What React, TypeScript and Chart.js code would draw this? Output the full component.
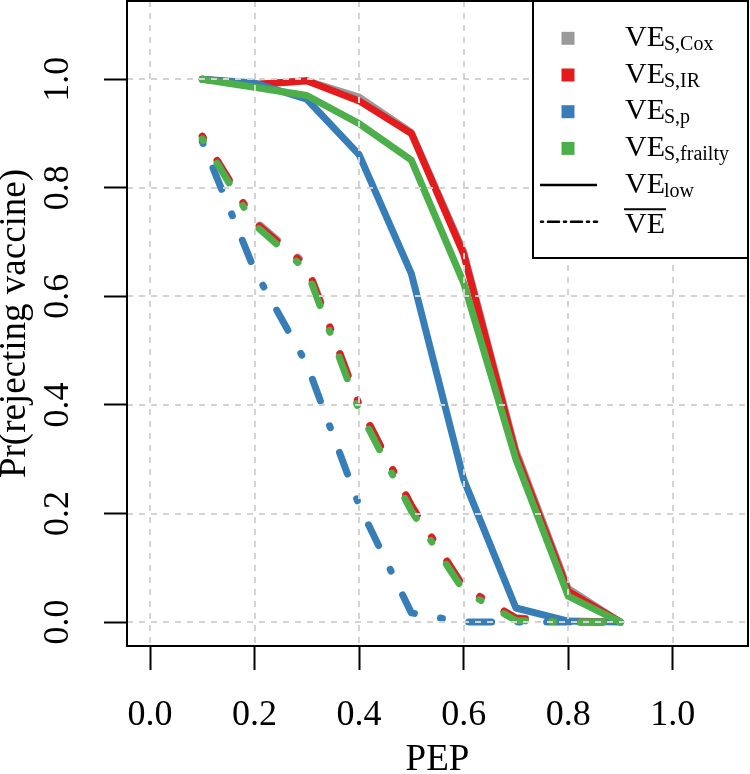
import React, { useEffect, useRef } from 'react';
import { Chart, registerables } from 'chart.js';

Chart.register(...registerables);

// ---- data ----
const pep = [0.1, 0.2, 0.3, 0.4, 0.5, 0.6, 0.7, 0.8, 0.9];

// VE_low (solid)
const coxLow = [1.0, 0.99, 0.997, 0.967, 0.902, 0.683, 0.316, 0.062, 0.0];
const irLow = [1.0, 0.99, 0.997, 0.96, 0.9, 0.678, 0.31, 0.057, 0.0];
const pLow = [1.0, 0.993, 0.963, 0.861, 0.642, 0.263, 0.026, 0.002, 0.0];
const frailtyLow = [1.0, 0.985, 0.97, 0.918, 0.851, 0.625, 0.3, 0.048, 0.0];

// VE bar (dot-dash)
const coxBar = [0.895, 0.74, 0.658, 0.402, 0.214, 0.066, 0.008, 0.0, 0.0];
const irBar = [0.895, 0.737, 0.655, 0.4, 0.215, 0.064, 0.007, 0.0, 0.0];
const pBar = [0.885, 0.648, 0.475, 0.215, 0.017, 0.0, 0.0, 0.0, 0.0];
const frailtyBar = [0.89, 0.732, 0.648, 0.39, 0.205, 0.058, 0.003, 0.0, 0.0];

const xTicks = [0, 0.2, 0.4, 0.6, 0.8, 1.0];
const yTicks = [0, 0.2, 0.4, 0.6, 0.8, 1.0];

const methodSubs = ['S,Cox', 'S,IR', 'S,p', 'S,frailty'];
const methodColors = ['#999999', '#E41A1C', '#377EB8', '#4DAF4A'];
const lowSeries = [coxLow, irLow, pLow, frailtyLow];
const barSeries = [coxBar, irBar, pBar, frailtyBar];

const xTitle = 'PEP';
const yTitle = 'Pr(rejecting vaccine)';

const FONT = '"Liberation Serif", "Times New Roman", serif';
const DOTDASH = [2, 26.5, 23, 26.5];
const LINE_W = 7;

const overlayPlugin = {
  id: 'overlay',
  afterDatasetsDraw(chart: any) {
    const { ctx, chartArea: a, scales } = chart;
    const x = scales.x;
    const y = scales.y;
    ctx.save();
    // dashed grid drawn over data (like R's grid())
    ctx.strokeStyle = '#D3D3D3';
    ctx.lineWidth = 2;
    ctx.setLineDash([6, 6]);
    xTicks.forEach((v) => {
      const px = Math.round(x.getPixelForValue(v));
      ctx.beginPath();
      ctx.moveTo(px, a.top);
      ctx.lineTo(px, a.bottom);
      ctx.stroke();
    });
    yTicks.forEach((v) => {
      const py = Math.round(y.getPixelForValue(v));
      ctx.beginPath();
      ctx.moveTo(a.left, py);
      ctx.lineTo(a.right, py);
      ctx.stroke();
    });
    ctx.setLineDash([]);

    // frame
    ctx.strokeStyle = '#000';
    ctx.lineWidth = 2;
    ctx.strokeRect(a.left, a.top, a.right - a.left, a.bottom - a.top);

    // legend
    const lw = 215;
    const lh = 257;
    const lx = a.right - lw;
    const ly = a.top;
    ctx.fillStyle = '#fff';
    ctx.fillRect(lx, ly, lw, lh);
    ctx.strokeRect(lx, ly, lw, lh);

    const rowH = 36.7;
    const row0 = ly + 37.3;
    const textX = lx + 92;
    const symX = lx + 35;
    const mainFont = `30px ${FONT}`;
    const subFont = `20px ${FONT}`;
    ctx.textBaseline = 'alphabetic';
    ctx.textAlign = 'left';

    const drawVE = (cy: number, sub: string, baseOff: number, subOff: number) => {
      ctx.fillStyle = '#000';
      ctx.font = mainFont;
      ctx.fillText('VE', textX, cy + baseOff);
      const w = ctx.measureText('VE').width;
      if (sub) {
        ctx.font = subFont;
        ctx.fillText(sub, textX + w - 1, cy + subOff);
      }
      return w;
    };

    methodSubs.forEach((s, i) => {
      const cy = row0 + i * rowH;
      ctx.fillStyle = methodColors[i];
      ctx.fillRect(symX - 6.5, cy - 6.5, 13, 13);
      drawVE(cy, s, 7.5, 11.5);
    });

    // solid line sample: VE_low
    let cy = row0 + 4 * rowH;
    ctx.strokeStyle = '#000';
    ctx.lineWidth = 2.5;
    ctx.beginPath();
    ctx.moveTo(lx + 7, cy);
    ctx.lineTo(lx + 64, cy);
    ctx.stroke();
    drawVE(cy, 'low', 8, 12);

    // dot-dash sample: VE bar
    cy = row0 + 5 * rowH;
    ctx.setLineDash([2, 5, 11, 5]);
    ctx.lineCap = 'round';
    ctx.beginPath();
    ctx.moveTo(lx + 8, cy);
    ctx.lineTo(lx + 64, cy);
    ctx.stroke();
    ctx.setLineDash([]);
    ctx.lineCap = 'butt';
    const w = drawVE(cy, '', 11.5, 0);
    ctx.lineWidth = 2;
    ctx.beginPath();
    ctx.moveTo(textX - 1, cy - 12.5);
    ctx.lineTo(textX + w + 1, cy - 12.5);
    ctx.stroke();

    ctx.restore();
  },
};

export default function App() {
  const ref = useRef<HTMLCanvasElement | null>(null);

  useEffect(() => {
    if (!ref.current) return;
    const datasets: any[] = [];
    let drawIdx = 0;
    lowSeries.forEach((arr, i) => {
      datasets.push({
        label: `VE_${methodSubs[i]} low`,
        data: pep.map((xv, j) => ({ x: xv, y: arr[j] })),
        borderColor: methodColors[i],
        backgroundColor: methodColors[i],
        borderWidth: LINE_W,
        borderCapStyle: 'round',
        borderJoinStyle: 'round',
        pointRadius: 0,
        fill: false,
        tension: 0,
        order: 100 - drawIdx++,
      });
    });
    barSeries.forEach((arr, i) => {
      datasets.push({
        label: `VE_${methodSubs[i]} bar`,
        data: pep.map((xv, j) => ({ x: xv, y: arr[j] })),
        borderColor: methodColors[i],
        backgroundColor: methodColors[i],
        borderWidth: LINE_W,
        borderCapStyle: 'round',
        borderJoinStyle: 'round',
        borderDash: DOTDASH,
        pointRadius: 0,
        fill: false,
        tension: 0,
        order: 100 - drawIdx++,
      });
    });

    const chart = new Chart(ref.current, {
      type: 'line',
      data: { datasets },
      options: {
        animation: false,
        responsive: false,
        maintainAspectRatio: false,
        layout: { autoPadding: false, padding: { left: 0, right: 2, top: 1, bottom: 0 } },
        plugins: {
          legend: { display: false },
          tooltip: { enabled: false },
        },
        scales: {
          x: {
            type: 'linear',
            min: -0.044,
            max: 1.144,
            afterBuildTicks: (s: any) => {
              s.ticks = xTicks.map((v) => ({ value: v }));
            },
            afterFit: (s: any) => {
              s.height = 128;
              s.paddingLeft = 0;
              s.paddingRight = 0;
            },
            border: { display: false },
            grid: {
              drawOnChartArea: false,
              drawTicks: true,
              tickLength: 24,
              tickColor: '#000',
              tickWidth: 2,
            },
            ticks: {
              autoSkip: false,
              maxRotation: 0,
              minRotation: 0,
              padding: 24,
              color: '#000',
              font: { family: FONT, size: 36 },
              callback: (v: any) => Number(v).toFixed(1),
            },
            title: {
              display: true,
              text: xTitle,
              color: '#000',
              font: { family: FONT, size: 37, lineHeight: 0.8 },
              padding: { top: 0, bottom: -1 },
            },
          },
          y: {
            type: 'linear',
            min: -0.044,
            max: 1.144,
            afterBuildTicks: (s: any) => {
              s.ticks = yTicks.map((v) => ({ value: v }));
            },
            afterFit: (s: any) => {
              s.width = 127;
              s.paddingTop = 0;
              s.paddingBottom = 0;
            },
            border: { display: false },
            grid: {
              drawOnChartArea: false,
              drawTicks: true,
              tickLength: 23,
              tickColor: '#000',
              tickWidth: 2,
            },
            ticks: {
              autoSkip: false,
              minRotation: 90,
              maxRotation: 90,
              crossAlign: 'center',
              padding: 23,
              color: '#000',
              font: { family: FONT, size: 36 },
              callback: (v: any) => Number(v).toFixed(1),
            },
            title: {
              display: true,
              text: yTitle,
              color: '#000',
              font: { family: FONT, size: 37, lineHeight: 0.8 },
              padding: { top: 0, bottom: 0 },
            },
          },
        },
      } as any,
      plugins: [overlayPlugin],
    });
    return () => chart.destroy();
  }, []);

  return (
    <div style={{ position: 'absolute', left: 0, top: 0, width: 750, height: 774, background: '#fff' }}>
      <canvas ref={ref} width={750} height={774} style={{ display: 'block', width: 750, height: 774 }} />
    </div>
  );
}
